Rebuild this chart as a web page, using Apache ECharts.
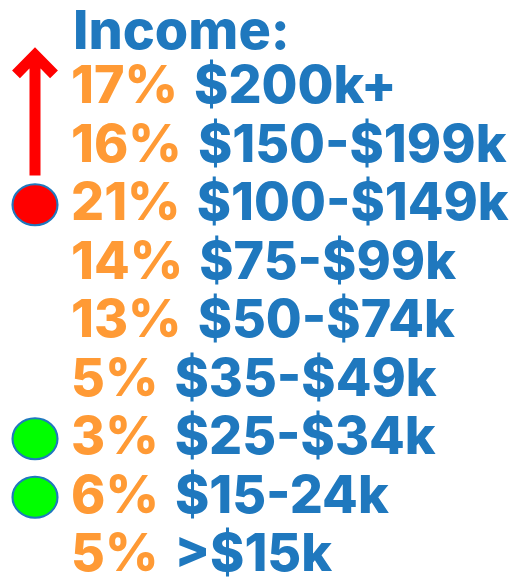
<!DOCTYPE html>
<html>
<head>
<meta charset="utf-8">
<script src="https://cdn.jsdelivr.net/npm/echarts@6/dist/echarts.min.js"></script>
<style>
  html, body { margin: 0; padding: 0; background: #fff; }
  #chart { width: 517px; height: 585px; }
</style>
</head>
<body>
<div id="chart"></div>
<script>
// income brackets, top row first
const brackets = ['$200k+', '$150-$199k', '$100-$149k', '$75-$99k', '$50-$74k', '$35-$49k', '$25-$34k', '$15-24k', '>$15k'];
const shares = [17, 16, 21, 14, 13, 5, 3, 6, 5];
const redRows = ['$100-$149k'];
const greenRows = ['$25-$34k', '$15-24k'];
// arrow runs from just above the red row up past the top row (row units)
const arrowFrom = 1.5;
const arrowTo = -0.57;

const ORANGE = '#FF9A35';
const BLUE = '#1F78BE';
const FONT = 'Inter';
const SIZE = 52;
const TEXT_X = 71;
const MARK_X = 35;

const chart = echarts.init(document.getElementById('chart'));

const rowIdx = name => brackets.indexOf(name);
const txt = color => ({ color, fontFamily: FONT, fontWeight: 800, fontSize: SIZE });

chart.setOption({
    animation: false,
    title: {
        text: 'Income:',
        left: 68, top: 1,
        textStyle: Object.assign(txt(BLUE), { fontSize: 54 }),
    },
    grid: { left: 0, right: 0, top: 0, bottom: 0 },
    xAxis: { type: 'value', min: 0, max: 517, show: false },
    yAxis: { type: 'value', min: -1.5, max: 8.5, inverse: true, show: false },
    series: [
        {
            // percent + bracket text rows
            type: 'scatter',
            symbolSize: 0,
            itemStyle: { opacity: 1 },
            data: brackets.map((b, i) => [TEXT_X, i]),
            label: {
                show: true,
                position: 'inside',
                align: 'left',
                verticalAlign: 'middle',
                fontFamily: FONT,
                fontSize: SIZE,
                formatter: p => `{p|${shares[p.dataIndex]}%}{g|}{v|${brackets[p.dataIndex]}}`,
                rich: {
                    p: txt(ORANGE),
                    g: { width: 16 },
                    v: txt(BLUE),
                },
            },
        },
        {
            type: 'scatter',
            symbol: 'circle',
            symbolSize: [45, 41],
            itemStyle: { color: '#FF0000', borderColor: BLUE, borderWidth: 2, opacity: 1 },
            data: redRows.map(r => [MARK_X, rowIdx(r)]),
        },
        {
            type: 'scatter',
            symbol: 'circle',
            symbolSize: [45, 41],
            itemStyle: { color: '#00FF00', borderColor: BLUE, borderWidth: 2, opacity: 1 },
            data: greenRows.map(r => [MARK_X, rowIdx(r)]),
        },
        {
            // upward arrow: shaft, then chevron head
            type: 'line',
            symbol: 'none',
            connectNulls: false,
            lineStyle: { color: '#FF0000', width: 11, cap: 'butt', join: 'miter' },
            data: [
                [MARK_X, arrowFrom], [MARK_X, arrowTo + 0.05], '-',
                [MARK_X - 19, arrowTo + 0.34], [MARK_X, arrowTo + 0.01], [MARK_X + 19, arrowTo + 0.34],
            ],
        },
    ],
});
</script>
</body>
</html>
